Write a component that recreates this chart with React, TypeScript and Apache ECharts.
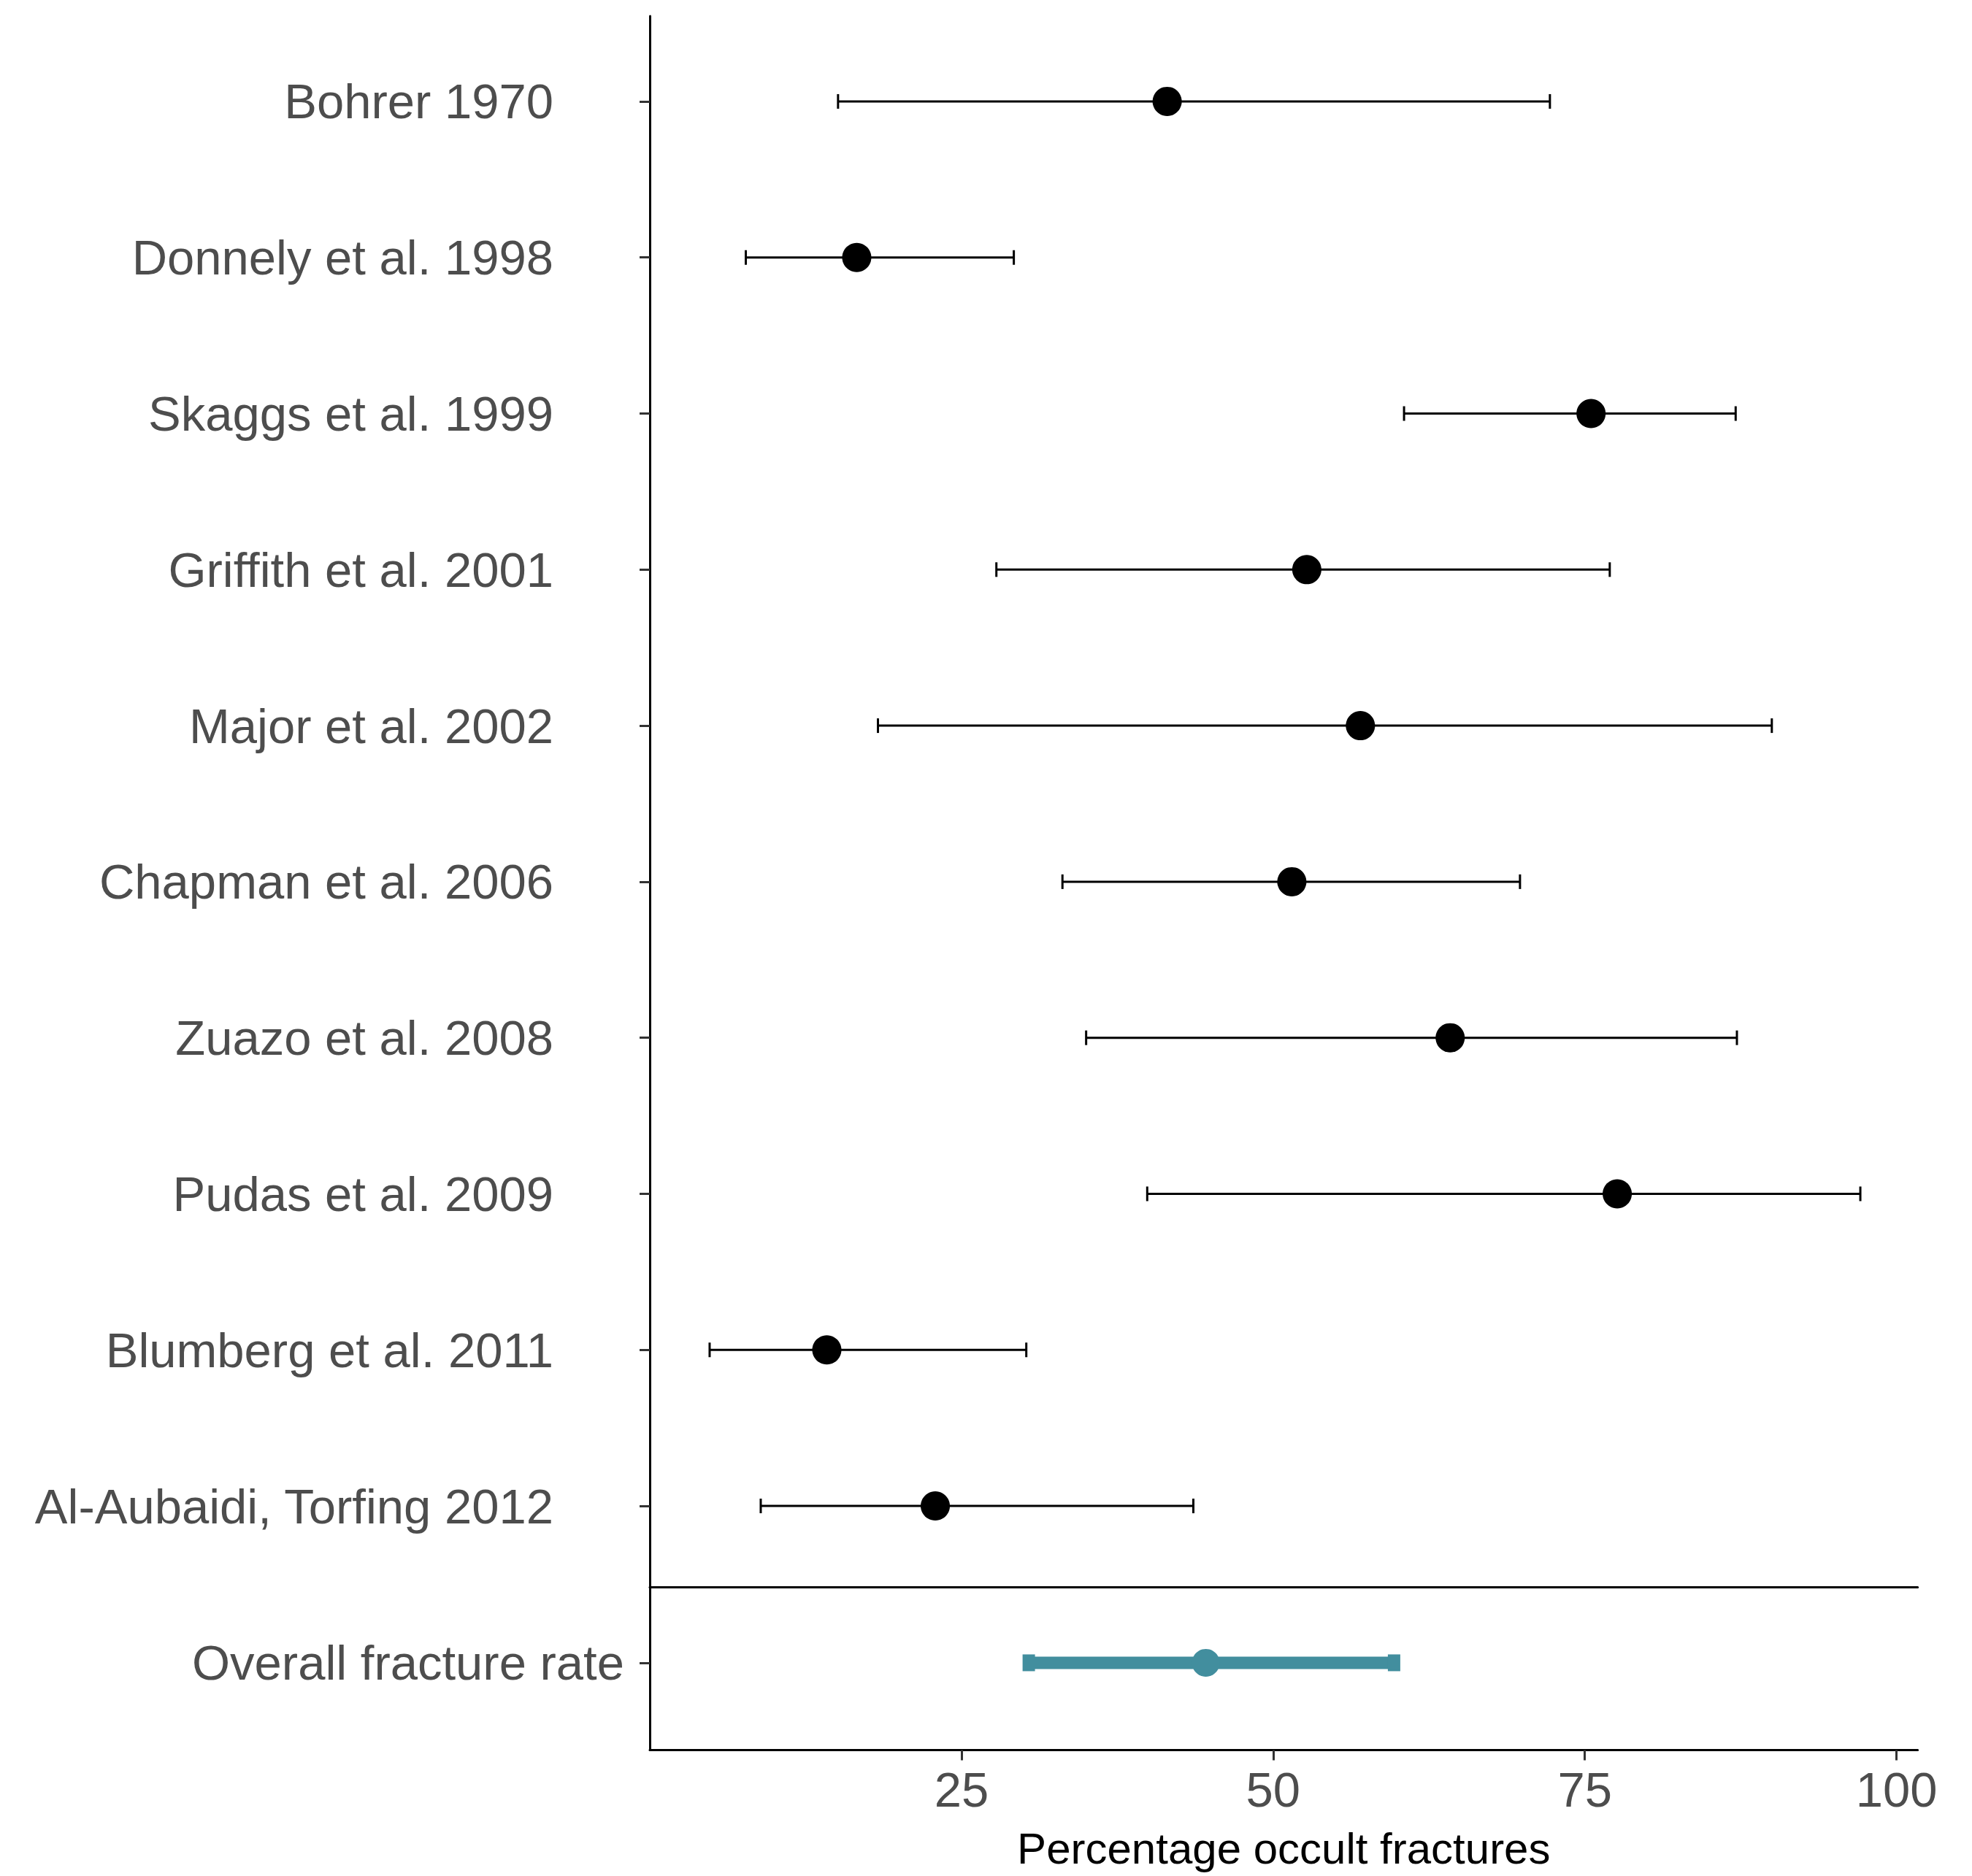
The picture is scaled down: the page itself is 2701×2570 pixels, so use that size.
import React, { useEffect, useRef } from "react";
import * as echarts from "echarts";

const studies = [
  "Bohrer 1970",
  "Donnely et al. 1998",
  "Skaggs et al. 1999",
  "Griffith et al. 2001",
  "Major et al. 2002",
  "Chapman et al. 2006",
  "Zuazo et al. 2008",
  "Pudas et al. 2009",
  "Blumberg et al. 2011",
  "Al-Aubaidi, Torfing 2012",
];
const estimates = [41.5, 16.6, 75.5, 52.7, 57.0, 51.5, 64.2, 77.6, 14.2, 22.9];
const lowerCI = [15.1, 7.7, 60.5, 27.8, 18.3, 33.1, 35.0, 39.9, 4.8, 8.9];
const upperCI = [72.2, 29.2, 87.1, 77.0, 90.0, 69.8, 87.2, 97.1, 30.2, 43.6];

const overallLabel = ["Overall fracture rate"];
const overallEstimate = [44.6];
const overallLower = [30.4];
const overallUpper = [59.7];

const xTicks = [25, 50, 75, 100];
const xTitle = "Percentage occult fractures";

const FONT = "'Liberation Sans', Arial, sans-serif";
const TEAL = "#428E9E";

function errorBarRenderer(color: string, lineWidth: number, capHalf: number) {
  return (params: any, api: any) => {
    const idx = api.value(0);
    const lo = api.value(1);
    const hi = api.value(2);
    const p1 = api.coord([lo, idx]);
    const p2 = api.coord([hi, idx]);
    const style = { stroke: color, lineWidth, fill: "none" };
    return {
      type: "group",
      children: [
        { type: "line", shape: { x1: p1[0], y1: p1[1], x2: p2[0], y2: p2[1] }, style },
        { type: "line", shape: { x1: p1[0], y1: p1[1] - capHalf, x2: p1[0], y2: p1[1] + capHalf }, style },
        { type: "line", shape: { x1: p2[0], y1: p2[1] - capHalf, x2: p2[0], y2: p2[1] + capHalf }, style },
      ],
    };
  };
}

export default function App() {
  const ref = useRef<HTMLDivElement>(null);

  useEffect(() => {
    if (!ref.current) return;
    const chart = echarts.init(ref.current, undefined, { renderer: "svg" });

    const studyIdx = studies.map((_, i) => i);
    const left = 890;
    const width = 1736.6;

    const option: any = {
      animation: false,
      backgroundColor: "#ffffff",
      textStyle: { fontFamily: FONT },
      grid: [
        { left, top: 22, width, height: 2152 },
        { left, top: 2174, width, height: 223.5 },
      ],
      xAxis: [
        {
          gridIndex: 0,
          type: "value",
          min: 0,
          max: 101.7,
          axisLine: { show: true, onZero: false, lineStyle: { color: "#000000", width: 3 } },
          axisTick: { show: false },
          axisLabel: { show: false },
          splitLine: { show: false },
        },
        {
          gridIndex: 1,
          type: "value",
          min: 0,
          max: 101.7,
          axisLine: { show: true, onZero: false, lineStyle: { color: "#000000", width: 3 } },
          axisTick: {
            show: true,
            customValues: xTicks,
            length: 14,
            lineStyle: { color: "#333333", width: 3 },
          },
          axisLabel: {
            show: true,
            customValues: xTicks,
            margin: 20,
            fontSize: 67,
            color: "#4D4D4D",
            fontFamily: FONT,
          },
          splitLine: { show: false },
          name: xTitle,
          nameLocation: "middle",
          nameGap: 105,
          nameTextStyle: { fontSize: 60, color: "#000000", fontFamily: FONT },
        },
      ],
      yAxis: [
        {
          gridIndex: 0,
          type: "value",
          inverse: true,
          min: -0.547,
          max: 9.519,
          axisLine: { show: true, onZero: false, lineStyle: { color: "#000000", width: 3 } },
          axisTick: {
            show: true,
            customValues: studyIdx,
            length: 14,
            lineStyle: { color: "#333333", width: 3 },
          },
          axisLabel: {
            show: true,
            customValues: studyIdx,
            formatter: (v: number) => studies[Math.round(v)] ?? "",
            margin: 132,
            fontSize: 67,
            color: "#4D4D4D",
            fontFamily: FONT,
          },
          splitLine: { show: false },
        },
        {
          gridIndex: 1,
          type: "value",
          inverse: true,
          min: -0.465,
          max: 0.535,
          axisLine: { show: true, onZero: false, lineStyle: { color: "#000000", width: 3 } },
          axisTick: {
            show: true,
            customValues: [0],
            length: 14,
            lineStyle: { color: "#333333", width: 3 },
          },
          axisLabel: {
            show: true,
            customValues: [0],
            formatter: (v: number) => overallLabel[Math.round(v)] ?? "",
            margin: 35,
            fontSize: 67,
            color: "#4D4D4D",
            fontFamily: FONT,
          },
          splitLine: { show: false },
        },
      ],
      series: [
        {
          type: "custom",
          xAxisIndex: 0,
          yAxisIndex: 0,
          renderItem: errorBarRenderer("#000000", 3, 10),
          encode: { x: [1, 2], y: 0 },
          data: studies.map((_, i) => [i, lowerCI[i], upperCI[i]]),
          z: 2,
          silent: true,
        },
        {
          type: "scatter",
          xAxisIndex: 0,
          yAxisIndex: 0,
          symbol: "circle",
          symbolSize: 40,
          itemStyle: { color: "#000000", opacity: 1 },
          data: studies.map((_, i) => [estimates[i], i]),
          z: 3,
          silent: true,
        },
        {
          type: "custom",
          xAxisIndex: 1,
          yAxisIndex: 1,
          renderItem: errorBarRenderer(TEAL, 17, 11.5),
          encode: { x: [1, 2], y: 0 },
          data: overallLabel.map((_, i) => [i, overallLower[i], overallUpper[i]]),
          z: 2,
          silent: true,
        },
        {
          type: "scatter",
          xAxisIndex: 1,
          yAxisIndex: 1,
          symbol: "circle",
          symbolSize: 38,
          itemStyle: { color: TEAL, opacity: 1 },
          data: overallLabel.map((_, i) => [overallEstimate[i], i]),
          z: 3,
          silent: true,
        },
      ],
    };

    chart.setOption(option);
    return () => chart.dispose();
  }, []);

  return (
    <div
      ref={ref}
      style={{ position: "absolute", left: 0, top: 0, width: 2701, height: 2570, background: "#ffffff" }}
    />
  );
}
